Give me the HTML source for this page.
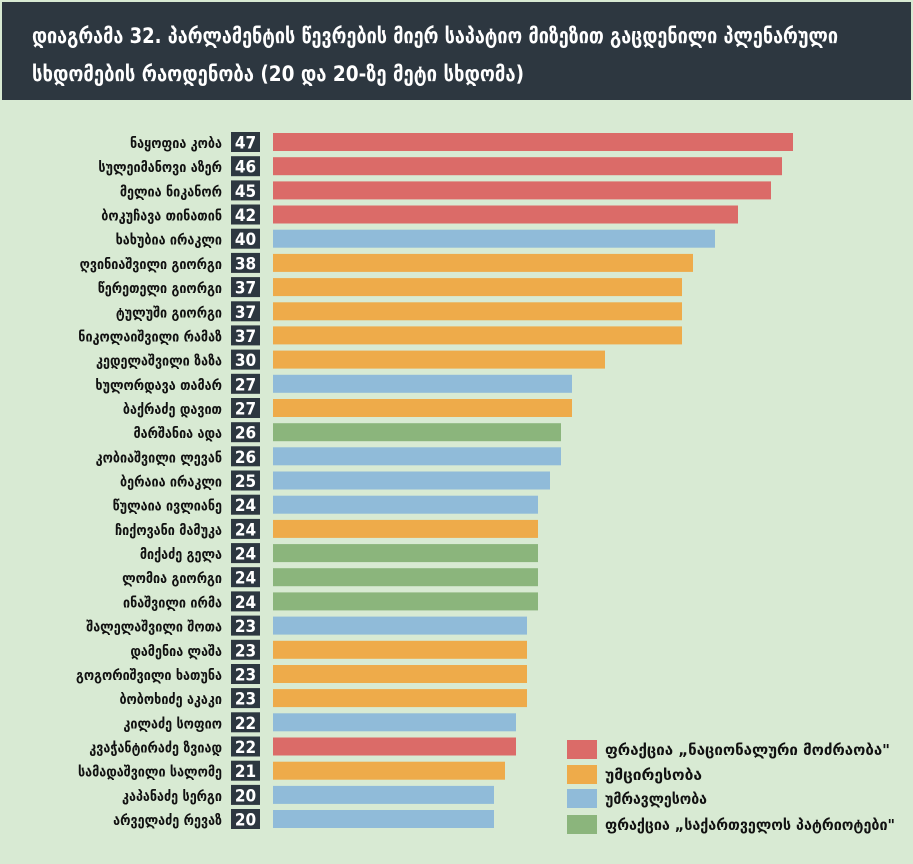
<!DOCTYPE html>
<html><head><meta charset="utf-8"><style>
body{margin:0;background:#fff}
svg{display:block}
text{font-family:"DejaVu Sans","Liberation Sans",sans-serif;font-weight:bold;font-stretch:condensed}
.l{font-size:14px;fill:#111;text-anchor:end}
.n{font-size:17px;fill:#fff;text-anchor:middle}
.k{fill:#2d3740}
.r{fill:#db6b68}.o{fill:#eeab4a}.b{fill:#90bbd9}.g{fill:#8bb57c}
</style></head><body>
<svg width="913" height="864" viewBox="0 0 913 864" xmlns="http://www.w3.org/2000/svg">
<rect x="0" y="0" width="913" height="864" fill="#d8ead3"/>
<rect x="2" y="2" width="909" height="98" fill="#2d3740"/>
<text x="32" y="43" fill="#fff" font-size="21" textLength="806" lengthAdjust="spacingAndGlyphs">დიაგრამა 32. პარლამენტის წევრების მიერ საპატიო მიზეზით გაცდენილი პლენარული</text>
<text x="32" y="81" fill="#fff" font-size="21" textLength="492" lengthAdjust="spacingAndGlyphs">სხდომების რაოდენობა (20 და 20-ზე მეტი სხდომა)</text>

<g transform="translate(0,133)"><rect x="273" y="0" width="520" height="18" class="r"/><rect x="231" y="-1" width="29" height="20" class="k"/><text x="245.5" y="15.5" class="n">47</text><text x="222" y="15" class="l">ნაყოფია კობა</text></g>
<g transform="translate(0,157.2)"><rect x="273" y="0" width="509" height="18" class="r"/><rect x="231" y="-1" width="29" height="20" class="k"/><text x="245.5" y="15.5" class="n">46</text><text x="222" y="15" class="l">სულეიმანოვი აზერ</text></g>
<g transform="translate(0,181.4)"><rect x="273" y="0" width="498" height="18" class="r"/><rect x="231" y="-1" width="29" height="20" class="k"/><text x="245.5" y="15.5" class="n">45</text><text x="222" y="15" class="l">მელია ნიკანორ</text></g>
<g transform="translate(0,205.5)"><rect x="273" y="0" width="465" height="18" class="r"/><rect x="231" y="-1" width="29" height="20" class="k"/><text x="245.5" y="15.5" class="n">42</text><text x="222" y="15" class="l">ბოკუჩავა თინათინ</text></g>
<g transform="translate(0,229.7)"><rect x="273" y="0" width="442" height="18" class="b"/><rect x="231" y="-1" width="29" height="20" class="k"/><text x="245.5" y="15.5" class="n">40</text><text x="222" y="15" class="l">ხახუბია ირაკლი</text></g>
<g transform="translate(0,253.9)"><rect x="273" y="0" width="420" height="18" class="o"/><rect x="231" y="-1" width="29" height="20" class="k"/><text x="245.5" y="15.5" class="n">38</text><text x="222" y="15" class="l">ღვინიაშვილი გიორგი</text></g>
<g transform="translate(0,278.1)"><rect x="273" y="0" width="409" height="18" class="o"/><rect x="231" y="-1" width="29" height="20" class="k"/><text x="245.5" y="15.5" class="n">37</text><text x="222" y="15" class="l">წერეთელი გიორგი</text></g>
<g transform="translate(0,302.3)"><rect x="273" y="0" width="409" height="18" class="o"/><rect x="231" y="-1" width="29" height="20" class="k"/><text x="245.5" y="15.5" class="n">37</text><text x="222" y="15" class="l">ტულუში გიორგი</text></g>
<g transform="translate(0,326.4)"><rect x="273" y="0" width="409" height="18" class="o"/><rect x="231" y="-1" width="29" height="20" class="k"/><text x="245.5" y="15.5" class="n">37</text><text x="222" y="15" class="l">ნიკოლაიშვილი რამაზ</text></g>
<g transform="translate(0,350.6)"><rect x="273" y="0" width="332" height="18" class="o"/><rect x="231" y="-1" width="29" height="20" class="k"/><text x="245.5" y="15.5" class="n">30</text><text x="222" y="15" class="l">კედელაშვილი ზაზა</text></g>
<g transform="translate(0,374.8)"><rect x="273" y="0" width="299" height="18" class="b"/><rect x="231" y="-1" width="29" height="20" class="k"/><text x="245.5" y="15.5" class="n">27</text><text x="222" y="15" class="l">ხულორდავა თამარ</text></g>
<g transform="translate(0,399)"><rect x="273" y="0" width="299" height="18" class="o"/><rect x="231" y="-1" width="29" height="20" class="k"/><text x="245.5" y="15.5" class="n">27</text><text x="222" y="15" class="l">ბაქრაძე დავით</text></g>
<g transform="translate(0,423.2)"><rect x="273" y="0" width="288" height="18" class="g"/><rect x="231" y="-1" width="29" height="20" class="k"/><text x="245.5" y="15.5" class="n">26</text><text x="222" y="15" class="l">მარშანია ადა</text></g>
<g transform="translate(0,447.3)"><rect x="273" y="0" width="288" height="18" class="b"/><rect x="231" y="-1" width="29" height="20" class="k"/><text x="245.5" y="15.5" class="n">26</text><text x="222" y="15" class="l">კობიაშვილი ლევან</text></g>
<g transform="translate(0,471.5)"><rect x="273" y="0" width="277" height="18" class="b"/><rect x="231" y="-1" width="29" height="20" class="k"/><text x="245.5" y="15.5" class="n">25</text><text x="222" y="15" class="l">ბერაია ირაკლი</text></g>
<g transform="translate(0,495.7)"><rect x="273" y="0" width="265" height="18" class="b"/><rect x="231" y="-1" width="29" height="20" class="k"/><text x="245.5" y="15.5" class="n">24</text><text x="222" y="15" class="l">წულაია ივლიანე</text></g>
<g transform="translate(0,519.9)"><rect x="273" y="0" width="265" height="18" class="o"/><rect x="231" y="-1" width="29" height="20" class="k"/><text x="245.5" y="15.5" class="n">24</text><text x="222" y="15" class="l">ჩიქოვანი მამუკა</text></g>
<g transform="translate(0,544.1)"><rect x="273" y="0" width="265" height="18" class="g"/><rect x="231" y="-1" width="29" height="20" class="k"/><text x="245.5" y="15.5" class="n">24</text><text x="222" y="15" class="l">მიქაძე გელა</text></g>
<g transform="translate(0,568.2)"><rect x="273" y="0" width="265" height="18" class="g"/><rect x="231" y="-1" width="29" height="20" class="k"/><text x="245.5" y="15.5" class="n">24</text><text x="222" y="15" class="l">ლომია გიორგი</text></g>
<g transform="translate(0,592.4)"><rect x="273" y="0" width="265" height="18" class="g"/><rect x="231" y="-1" width="29" height="20" class="k"/><text x="245.5" y="15.5" class="n">24</text><text x="222" y="15" class="l">ინაშვილი ირმა</text></g>
<g transform="translate(0,616.6)"><rect x="273" y="0" width="254" height="18" class="b"/><rect x="231" y="-1" width="29" height="20" class="k"/><text x="245.5" y="15.5" class="n">23</text><text x="222" y="15" class="l">შალელაშვილი შოთა</text></g>
<g transform="translate(0,640.8)"><rect x="273" y="0" width="254" height="18" class="o"/><rect x="231" y="-1" width="29" height="20" class="k"/><text x="245.5" y="15.5" class="n">23</text><text x="222" y="15" class="l">დამენია ლაშა</text></g>
<g transform="translate(0,665)"><rect x="273" y="0" width="254" height="18" class="o"/><rect x="231" y="-1" width="29" height="20" class="k"/><text x="245.5" y="15.5" class="n">23</text><text x="222" y="15" class="l">გოგორიშვილი ხათუნა</text></g>
<g transform="translate(0,689.1)"><rect x="273" y="0" width="254" height="18" class="o"/><rect x="231" y="-1" width="29" height="20" class="k"/><text x="245.5" y="15.5" class="n">23</text><text x="222" y="15" class="l">ბობოხიძე აკაკი</text></g>
<g transform="translate(0,713.3)"><rect x="273" y="0" width="243" height="18" class="b"/><rect x="231" y="-1" width="29" height="20" class="k"/><text x="245.5" y="15.5" class="n">22</text><text x="222" y="15" class="l">კილაძე სოფიო</text></g>
<g transform="translate(0,737.5)"><rect x="273" y="0" width="243" height="18" class="r"/><rect x="231" y="-1" width="29" height="20" class="k"/><text x="245.5" y="15.5" class="n">22</text><text x="222" y="15" class="l">კვაჭანტირაძე ზვიად</text></g>
<g transform="translate(0,761.7)"><rect x="273" y="0" width="232" height="18" class="o"/><rect x="231" y="-1" width="29" height="20" class="k"/><text x="245.5" y="15.5" class="n">21</text><text x="222" y="15" class="l">სამადაშვილი სალომე</text></g>
<g transform="translate(0,785.9)"><rect x="273" y="0" width="221" height="18" class="b"/><rect x="231" y="-1" width="29" height="20" class="k"/><text x="245.5" y="15.5" class="n">20</text><text x="222" y="15" class="l">კაპანაძე სერგი</text></g>
<g transform="translate(0,810)"><rect x="273" y="0" width="221" height="18" class="b"/><rect x="231" y="-1" width="29" height="20" class="k"/><text x="245.5" y="15.5" class="n">20</text><text x="222" y="15" class="l">არველაძე რევაზ</text></g>

<g font-size="15" fill="#111">
<rect x="567" y="740" width="30" height="19" class="r"/><text x="605" y="755" textLength="285" lengthAdjust="spacingAndGlyphs">ფრაქცია „ნაციონალური მოძრაობა"</text>
<rect x="567" y="765" width="30" height="19" class="o"/><text x="605" y="780" textLength="97" lengthAdjust="spacingAndGlyphs">უმცირესობა</text>
<rect x="567" y="789" width="30" height="19" class="b"/><text x="605" y="804" textLength="102" lengthAdjust="spacingAndGlyphs">უმრავლესობა</text>
<rect x="567" y="815" width="30" height="19" class="g"/><text x="605" y="830" textLength="290" lengthAdjust="spacingAndGlyphs">ფრაქცია „საქართველოს პატრიოტები"</text>
</g>
</svg>
</body></html>
